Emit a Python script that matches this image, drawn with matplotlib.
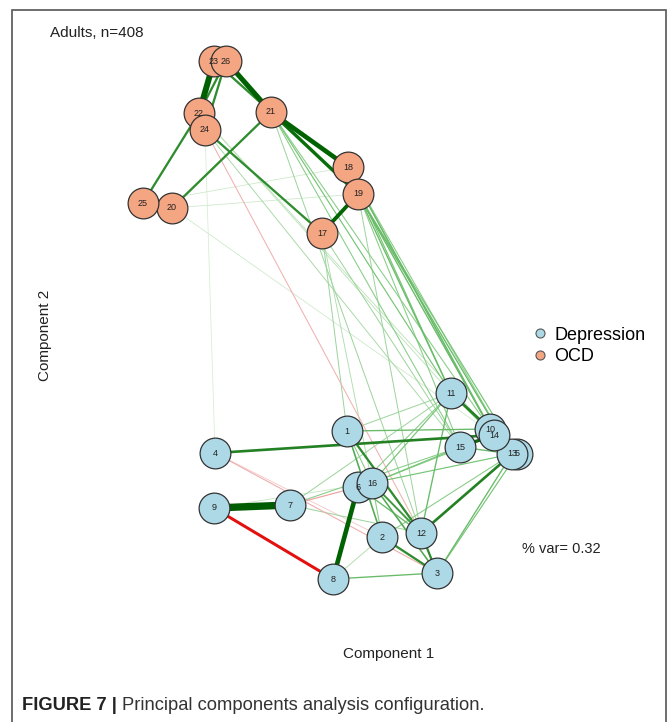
import matplotlib
matplotlib.use("Agg")
from matplotlib import pyplot as plt
from matplotlib.colors import LinearSegmentedColormap
from matplotlib.lines import Line2D
from matplotlib.patches import Rectangle

plt.rcParams['font.family'] = ['Liberation Sans', 'DejaVu Sans']

# PCA configuration: component scores of the 26 items
nodes = list(range(1, 27))
comp1 = [0.035, 0.21, 0.485, -0.625, 0.885, 0.09, -0.25, -0.035, -0.63, 0.75,
         0.555, 0.405, 0.86, 0.77, 0.60, 0.16,
         -0.09, 0.04, 0.09, -0.84, -0.345, -0.705, -0.63, -0.675, -0.985, -0.57]
comp2 = [-0.255, -0.785, -0.965, -0.365, -0.37, -0.535, -0.625, -0.995, -0.64, -0.245,
         -0.065, -0.765, -0.37, -0.275, -0.335, -0.515,
         0.735, 1.065, 0.93, 0.86, 1.34, 1.335, 1.595, 1.25, 0.885, 1.595]
groups = ["Depression"] * 16 + ["OCD"] * 10
group_colors = {"Depression": "#ADD8E6", "OCD": "#F4A582"}

# edges: (from, to, weight)
edges = [
    # OCD items
    (23, 22, 0.75), (26, 22, 0.3), (26, 24, 0.3), (26, 21, 0.65), (23, 21, 0.3),
    (21, 18, 0.6), (21, 19, 0.45), (19, 17, 0.5), (22, 25, 0.3), (24, 17, 0.3),
    (21, 20, 0.3), (18, 19, 0.2),
    # between the two groups
    (21, 11, 0.12), (21, 10, 0.1), (21, 15, 0.1), (21, 12, 0.08), (18, 11, 0.12),
    (18, 14, 0.15), (18, 10, 0.12), (18, 13, 0.1), (19, 11, 0.15), (19, 14, 0.15),
    (19, 13, 0.15), (19, 5, 0.12), (19, 15, 0.1), (19, 12, 0.08), (17, 15, 0.08),
    (17, 1, 0.08), (17, 16, 0.06), (24, 15, 0.07), (22, 14, 0.05), (22, 11, 0.05),
    (24, 12, -0.09), (4, 24, 0.02), (20, 19, 0.03), (25, 18, 0.03), (20, 14, 0.03),
    # depression items
    (9, 7, 0.9), (9, 8, -0.4), (8, 6, 0.6), (4, 14, 0.35), (15, 14, 0.45),
    (11, 10, 0.35), (1, 12, 0.3), (1, 2, 0.2), (1, 10, 0.15), (12, 13, 0.35),
    (2, 3, 0.3), (12, 3, 0.3), (16, 12, 0.25), (16, 3, 0.2), (8, 3, 0.15),
    (3, 13, 0.15), (3, 5, 0.12), (11, 12, 0.15), (11, 16, 0.12), (11, 6, 0.1),
    (11, 7, 0.08), (15, 16, 0.12), (15, 7, 0.1), (13, 16, 0.12), (13, 2, 0.1),
    (14, 16, 0.1), (4, 3, -0.1), (7, 6, -0.12), (9, 16, 0.04), (7, 12, 0.08),
    (1, 11, 0.08), (1, 16, 0.1), (11, 14, 0.15), (11, 13, 0.15), (10, 13, 0.2),
    (15, 13, 0.15), (8, 2, 0.06), (4, 2, -0.05), (2, 16, 0.1), (6, 12, 0.15),
]

pos_cmap = LinearSegmentedColormap.from_list(
    "pos", [(0, "#e8f3e4"), (0.12, "#74c474"), (0.3, "#2e8b2e"), (0.5, "#006400"), (1, "#005a00")])
neg_cmap = LinearSegmentedColormap.from_list(
    "neg", [(0, "#f6e0e0"), (0.12, "#eea0a0"), (0.4, "#e41010"), (1, "#cc0000")])

fig = plt.figure(figsize=(6.69, 7.22), dpi=100)
ax = fig.add_axes([0, 0, 1, 1])
ax.set_xlim(-1.7, 1.645)
ax.set_ylim(-1.71, 1.9)
ax.axis("off")

# border of the figure panel
fig.patches.append(Rectangle((12 / 669, -0.02), (666 - 12) / 669, 1 - 10 / 722 + 0.02,
                             transform=fig.transFigure, fill=False,
                             edgecolor="#555555", linewidth=1.2))

# edges, weakest first
for a, b, w in sorted(edges, key=lambda e: abs(e[2])):
    s = abs(w)
    col = pos_cmap(s) if w > 0 else neg_cmap(s)
    lw = 0.5 + 5.5 * s ** 1.3
    ax.plot([comp1[a - 1], comp1[b - 1]], [comp2[a - 1], comp2[b - 1]],
            color=col, linewidth=lw, solid_capstyle="butt", zorder=1)

# nodes, labels on top of all circles
for i, n in enumerate(nodes):
    ax.scatter(comp1[i], comp2[i], s=490, color=group_colors[groups[i]],
               edgecolor="#333333", linewidth=0.9, zorder=2 + i)
for i, n in enumerate(nodes):
    ax.text(comp1[i], comp2[i], str(n), ha="center", va="center",
            fontsize=6.5, color="#222222", zorder=40)

# legend
handles = [Line2D([], [], marker="o", linestyle="none", markersize=6.5,
                  markerfacecolor=group_colors[g], markeredgecolor="#555555",
                  markeredgewidth=0.8, label=g) for g in ["Depression", "OCD"]]
fig.legend(handles=handles, loc="center left", bbox_to_anchor=(522 / 669, 1 - 346 / 722),
           frameon=False, fontsize=13, handletextpad=0.3, labelspacing=0.25,
           handlelength=1.0, borderpad=0)

fig.text(50 / 669, 1 - 33 / 722, "Adults, n=408", fontsize=11, color="#222222",
         ha="left", va="center")
fig.text(389 / 669, 1 - 654 / 722, "Component 1", fontsize=11, color="#222222",
         ha="center", va="center")
fig.text(45 / 669, 1 - 335 / 722, "Component 2", fontsize=11, color="#222222",
         ha="center", va="center", rotation=90)
fig.text(522 / 669, 1 - 549 / 722, "% var= 0.32", fontsize=10.5, color="#222222",
         ha="left", va="center")

# caption
t = fig.text(22 / 669, 1 - 706 / 722, "FIGURE 7 |", fontsize=13.2, fontweight="bold",
             color="#222222", ha="left", va="center")
fig.canvas.draw()
bb = t.get_window_extent()
fig.text(bb.x1 / 669 + 5 / 669, 1 - 706 / 722, "Principal components analysis configuration.",
         fontsize=13.2, color="#333333", ha="left", va="center")

fig.savefig("out.png", dpi=100)
